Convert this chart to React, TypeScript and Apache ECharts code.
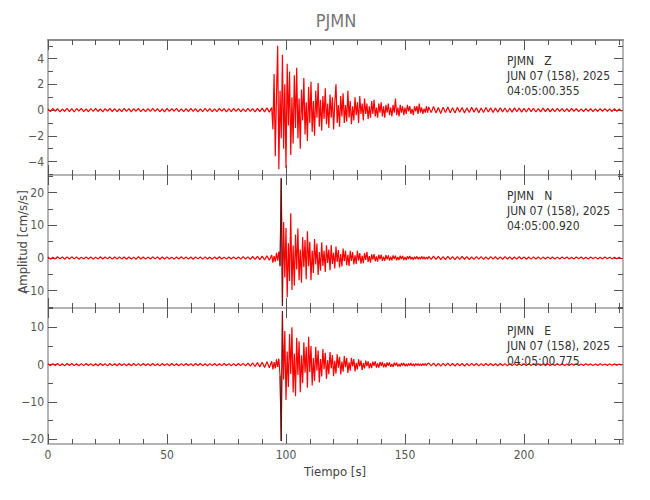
import React, { useEffect, useRef } from 'react';
import * as echarts from 'echarts';

// ---------------- data ----------------
const STATION = 'PJMN';
const CHANNELS = ['Z', 'N', 'E'];
const DATE_LABEL = 'JUN 07 (158), 2025';
const START_TIMES = ['04:05:00.355', '04:05:00.920', '04:05:00.775'];

const X_MAX = 241.6;
const X_MAJOR = [0, 50, 100, 150, 200];
const X_MINOR = [10, 20, 30, 40, 60, 70, 80, 90, 110, 120, 130, 140, 160, 170, 180, 190, 210, 220, 230, 240];

const Y_MIN = [-5.05, -15.3, -21.3];
const Y_MAX = [5.45, 25.4, 15.2];
const Y_MAJOR = [[-4, -2, 0, 2, 4], [-10, 0, 10, 20], [-20, -10, 0, 10]];
const Y_MINOR = [[-5, -3, -1, 1, 3, 5], [-15, -5, 5, 15, 25], [-15, -5, 5, 15]];

// sampling of the three segments (seconds)
const PRE_START = 0, PRE_STEP = 1;
const MAIN_START = 94, MAIN_STEP = 0.5;
const TAIL_START = 160, TAIL_STEP = 1;

const Z_PRE = [0.1,-0.13,0.14,-0.09,0.12,-0.14,0.08,-0.11,0.13,-0.12,
  0.11,-0.15,0.12,-0.08,0.14,-0.12,0.09,-0.13,0.12,-0.1,
  0.14,-0.11,0.1,-0.14,0.12,-0.09,0.13,-0.12,0.11,-0.13,
  0.09,-0.12,0.14,-0.1,0.12,-0.14,0.11,-0.09,0.13,-0.12,
  0.1,-0.13,0.12,-0.11,0.14,-0.1,0.12,-0.12,0.09,-0.14,
  0.13,-0.11,0.12,-0.09,0.14,-0.12,0.1,-0.13,0.11,-0.12,
  0.13,-0.1,0.12,-0.14,0.09,-0.12,0.14,-0.11,0.12,-0.13,
  0.1,-0.12,0.13,-0.09,0.12,-0.14,0.11,-0.12,0.14,-0.1,
  0.12,-0.13,0.09,-0.12,0.14,-0.11,0.12,-0.14,0.13,-0.12,
  0.15,-0.14,0.17,-0.16];
const Z_MAIN = [0.2,-1.5,2.8,-3.6,1.2,5.0,-4.6,1.5,-2.2,4.3,
  -3.0,2.0,-4.5,3.6,-1.2,3.0,-3.5,1.0,-2.6,2.7,
  -1.4,3.3,-2.2,0.9,-3.0,1.6,-0.8,2.5,-1.9,0.6,
  -2.4,1.8,-1.0,2.2,-1.7,0.7,-2.0,1.5,-0.6,2.1,
  -1.3,0.8,-1.6,1.1,-0.7,1.7,-1.1,0.5,-1.4,1.2,
  -0.6,1.0,-1.5,0.6,2.0,-1.0,0.4,-1.3,1.1,-0.5,
  1.3,-1.0,0.4,-0.9,1.5,-0.6,0.7,-1.1,0.3,-0.8,
  1.0,-0.4,0.6,-1.0,1.1,-0.3,0.5,-0.8,0.9,-0.3,
  0.5,-0.7,0.3,-0.6,0.7,-0.3,0.8,-0.5,0.2,-0.6,
  0.5,-0.2,0.6,-0.5,0.3,-0.6,0.4,-0.2,0.5,-0.4,
  0.2,-0.5,0.4,-0.2,0.9,-0.4,0.2,-0.5,0.4,-0.2,
  0.3,-0.4,0.2,-0.3,0.4,-0.1,0.3,-0.3,0.1,-0.4,
  0.3,-0.1,0.3,-0.3,0.5,-0.2,0.2,-0.3,0.1,-0.2,
  0.3,-0.2];
const Z_TAIL = [0.25,-0.2,0.28,-0.22,0.2,-0.26,0.22,-0.18,0.24,-0.2,
  0.18,-0.23,0.21,-0.17,0.2,-0.22,0.17,-0.19,0.22,-0.16,
  0.18,-0.2,0.16,-0.19,0.2,-0.15,0.17,-0.18,0.15,-0.17,
  0.18,-0.14,0.16,-0.17,0.14,-0.16,0.17,-0.13,0.15,-0.16,
  0.13,-0.15,0.16,-0.12,0.14,-0.15,0.12,-0.14,0.15,-0.12,
  0.13,-0.14,0.12,-0.13,0.14,-0.11,0.12,-0.13,0.11,-0.12,
  0.13,-0.11,0.12,-0.12,0.1,-0.12,0.12,-0.1,0.11,-0.12,
  0.1,-0.11,0.12,-0.1,0.11,-0.1,0.1,-0.11,0.11,-0.1,
  0.1,-0.1];

const N_PRE = [0.3,-0.36,0.25,-0.33,0.38,-0.27,0.32,-0.36,0.29,-0.31,
  0.36,-0.26,0.33,-0.39,0.27,-0.32,0.36,-0.29,0.31,-0.36,
  0.26,-0.33,0.39,-0.3,0.32,-0.27,0.36,-0.35,0.29,-0.31,
  0.35,-0.28,0.3,-0.37,0.33,-0.29,0.27,-0.36,0.37,-0.3,
  0.31,-0.35,0.28,-0.32,0.36,-0.27,0.33,-0.38,0.3,-0.29,
  0.36,-0.32,0.27,-0.36,0.32,-0.3,0.38,-0.28,0.31,-0.35,
  0.29,-0.37,0.35,-0.27,0.3,-0.33,0.36,-0.31,0.28,-0.36,
  0.33,-0.29,0.37,-0.32,0.27,-0.35,0.31,-0.3,0.36,-0.33,
  0.3,-0.36,0.4,-0.32,0.36,-0.42,0.46,-0.4,0.5,-0.48,
  0.56,-0.6,0.66,-0.7];
const N_MAIN = [0.9,-1.4,0.6,-1.1,1.6,-0.8,2.0,-2.5,24.4,-14.7,
  11.0,-6.0,9.2,-12.0,4.5,-7.0,13.7,-9.8,3.8,-8.5,
  7.2,-3.5,9.0,-6.8,2.6,-7.6,6.4,-2.8,5.5,-6.5,
  8.2,-2.5,5.0,-6.8,2.3,-4.6,5.8,-2.0,4.4,-5.2,
  1.8,-3.9,4.8,-2.4,2.2,-4.3,3.9,-1.5,2.6,-3.7,
  4.0,-1.8,1.6,-3.2,3.5,-1.2,2.4,-2.9,1.2,-2.6,
  2.9,-1.0,2.3,-2.2,1.0,-2.4,2.2,-0.9,1.8,-2.0,
  0.8,-1.8,2.2,-0.8,1.5,-1.7,0.7,-1.6,1.5,-0.6,
  1.9,-1.2,0.6,-1.4,1.1,-0.5,1.2,-1.0,0.5,-1.1,
  1.0,-0.4,1.0,-0.9,0.4,-0.9,0.9,-0.4,0.8,-0.8,
  0.4,-0.7,0.8,-0.3,0.7,-0.7,0.3,-0.6,0.7,-0.3,
  0.6,-0.6,0.3,-0.6,0.5,-0.3,0.6,-0.4,0.3,-0.5,
  0.4,-0.3,0.5,-0.4,0.3,-0.4,0.5,-0.3,0.4,-0.4,
  0.3,-0.4];
const N_TAIL = [0.5,-0.45,0.55,-0.4,0.48,-0.52,0.42,-0.47,0.5,-0.4,
  0.45,-0.5,0.4,-0.44,0.48,-0.38,0.43,-0.46,0.37,-0.42,
  0.45,-0.36,0.4,-0.43,0.35,-0.4,0.42,-0.34,0.38,-0.41,
  0.33,-0.38,0.4,-0.32,0.36,-0.39,0.31,-0.36,0.38,-0.3,
  0.35,-0.37,0.3,-0.34,0.36,-0.29,0.33,-0.35,0.28,-0.32,
  0.34,-0.28,0.31,-0.33,0.27,-0.3,0.32,-0.26,0.29,-0.31,
  0.26,-0.29,0.3,-0.25,0.28,-0.3,0.25,-0.28,0.29,-0.24,
  0.27,-0.28,0.24,-0.27,0.28,-0.24,0.26,-0.27,0.23,-0.26,
  0.25,-0.24];

const E_PRE = [0.25,-0.3,0.27,-0.23,0.31,-0.28,0.24,-0.32,0.29,-0.25,
  0.3,-0.27,0.23,-0.31,0.28,-0.26,0.32,-0.24,0.27,-0.3,
  0.25,-0.29,0.31,-0.25,0.26,-0.32,0.29,-0.27,0.24,-0.3,
  0.31,-0.25,0.28,-0.29,0.25,-0.31,0.3,-0.26,0.27,-0.28,
  0.32,-0.24,0.26,-0.3,0.29,-0.27,0.25,-0.32,0.3,-0.25,
  0.27,-0.29,0.31,-0.26,0.24,-0.3,0.28,-0.27,0.32,-0.25,
  0.26,-0.31,0.29,-0.24,0.3,-0.28,0.25,-0.3,0.27,-0.26,
  0.31,-0.29,0.24,-0.27,0.3,-0.25,0.28,-0.31,0.26,-0.29,
  0.3,-0.27,0.35,-0.33,0.4,-0.37,0.45,-0.5,0.55,-0.6,
  0.65,-0.75,0.8,-0.85];
const E_MAIN = [0.9,-1.3,0.7,-1.0,1.4,-0.6,1.6,-3.0,-20.5,14.4,
  -4.0,9.0,-9.5,3.5,-6.0,8.2,-2.5,10.0,-7.5,3.0,
  -8.5,7.2,-2.8,6.3,-7.4,2.5,-5.0,6.0,-2.2,4.8,
  -6.2,7.5,-2.0,5.0,-5.6,1.8,-4.4,4.8,-1.6,3.8,
  -4.8,1.5,-3.2,4.2,-1.2,3.2,-3.8,1.2,-2.6,3.4,
  -1.0,2.6,-3.1,1.0,-2.4,2.8,-0.8,2.1,-2.6,0.8,
  -1.9,2.3,-0.7,1.8,-2.2,0.6,-1.6,1.8,-0.5,1.5,
  -1.8,0.5,-1.3,1.4,-0.5,1.1,-1.4,0.4,-1.0,1.1,
  -0.4,0.9,-1.0,0.4,-0.9,0.8,-0.3,0.9,-0.8,0.3,
  -0.8,0.7,-0.3,0.7,-0.7,0.3,-0.7,0.6,-0.3,0.6,
  -0.6,0.2,-0.6,0.5,-0.2,0.5,-0.5,0.2,-0.5,0.4,
  -0.2,0.4,-0.4,0.2,-0.4,0.3,-0.2,0.4,-0.3,0.2,
  -0.4,0.3,-0.2,0.3,-0.3,0.2,-0.3,0.3,-0.2,0.3,
  -0.3,0.3];
const E_TAIL = [0.4,-0.35,0.42,-0.38,0.33,-0.4,0.36,-0.32,0.38,-0.34,
  0.3,-0.37,0.35,-0.3,0.33,-0.36,0.29,-0.33,0.34,-0.28,
  0.31,-0.33,0.27,-0.31,0.32,-0.26,0.29,-0.31,0.25,-0.29,
  0.3,-0.25,0.27,-0.29,0.24,-0.27,0.28,-0.23,0.26,-0.27,
  0.22,-0.26,0.27,-0.22,0.24,-0.26,0.21,-0.24,0.25,-0.21,
  0.23,-0.24,0.2,-0.23,0.24,-0.2,0.22,-0.23,0.19,-0.22,
  0.23,-0.19,0.21,-0.22,0.19,-0.21,0.22,-0.18,0.2,-0.21,
  0.18,-0.2,0.21,-0.18,0.19,-0.2,0.18,-0.19,0.2,-0.17,
  0.18,-0.18];

// dark peak strokes visible over the red traces
const SPIKE_T = [97.5, 98, 98.5];
const N_SPIKE = [-2.5, 24.4, -14.7];
const E_SPIKE = [-3.0, -20.5, 14.4];

// ---------------- helpers ----------------
const FONT = "'Liberation Sans Narrow','DejaVu Sans Condensed','Roboto Condensed',sans-serif";

function buildTrace(pre: number[], main: number[], tail: number[]) {
  const out: number[][] = [];
  pre.forEach((v, i) => out.push([PRE_START + i * PRE_STEP, v]));
  main.forEach((v, i) => out.push([MAIN_START + i * MAIN_STEP, v]));
  tail.forEach((v, i) => out.push([TAIL_START + i * TAIL_STEP, v]));
  return out;
}

const fmt = (v: number) => (v < 0 ? '\u2212' + Math.abs(v) : String(v));

export default function App() {
  const ref = useRef<HTMLDivElement>(null);

  useEffect(() => {
    if (!ref.current) return;
    const chart = echarts.init(ref.current, null, { renderer: 'svg' });

    const traces = [
      buildTrace(Z_PRE, Z_MAIN, Z_TAIL),
      buildTrace(N_PRE, N_MAIN, N_TAIL),
      buildTrace(E_PRE, E_MAIN, E_TAIL),
    ];
    const spikes: (number[] | null)[] = [null, N_SPIKE, E_SPIKE];

    const gridTop = [40, 175, 308];
    const gridH = [135, 133, 136];
    const axisColor = '#b4b4b4';
    const tickColor = '#555';

    const grids: any[] = [];
    const xAxes: any[] = [];
    const yAxes: any[] = [];
    const series: any[] = [];

    for (let p = 0; p < 3; p++) {
      grids.push({ left: 48, right: 27, top: gridTop[p], height: gridH[p], containLabel: false });

      const xBase = (position: string, values: number[], len: number, line: boolean, label: boolean, lineColor: string) => ({
        type: 'value', gridIndex: p, min: 0, max: X_MAX, position,
        axisLine: { show: line, onZero: false, lineStyle: { color: lineColor, width: 2 } },
        axisTick: { show: true, inside: true, length: len, customValues: values, lineStyle: { color: tickColor, width: 1 } },
        axisLabel: { show: label, customValues: values, margin: 5, color: '#555', fontSize: 12, fontFamily: FONT },
        splitLine: { show: false },
      });
      xAxes.push(xBase('bottom', X_MAJOR, 10, true, p === 2, axisColor));
      xAxes.push(xBase('bottom', X_MINOR, 5, false, false, axisColor));
      xAxes.push(xBase('top', X_MAJOR, 10, true, false, p === 0 ? '#8c8c8c' : axisColor));
      xAxes.push(xBase('top', X_MINOR, 5, false, false, axisColor));

      const yBase = (position: string, values: number[], len: number, line: boolean, label: boolean) => ({
        type: 'value', gridIndex: p, min: Y_MIN[p], max: Y_MAX[p], position,
        axisLine: { show: line, onZero: false, lineStyle: { color: axisColor, width: 2 } },
        axisTick: { show: true, inside: true, length: len, customValues: values, lineStyle: { color: tickColor, width: 1 } },
        axisLabel: { show: label, customValues: values, margin: 4, color: '#555', fontSize: 12, fontFamily: FONT, formatter: fmt },
        splitLine: { show: false },
      });
      yAxes.push(yBase('left', Y_MAJOR[p], 9, true, true));
      yAxes.push(yBase('left', Y_MINOR[p], 5, false, false));
      yAxes.push(yBase('right', Y_MAJOR[p], 9, true, false));
      yAxes.push(yBase('right', Y_MINOR[p], 5, false, false));

      series.push({
        type: 'line', xAxisIndex: 4 * p, yAxisIndex: 4 * p,
        data: traces[p], showSymbol: false, symbol: 'none', silent: true,
        lineStyle: { color: '#ff0000', width: 1.2 }, z: 3,
      });
      const sp = spikes[p];
      if (sp) {
        series.push({
          type: 'line', xAxisIndex: 4 * p, yAxisIndex: 4 * p,
          data: SPIKE_T.map((t, i) => [t, sp[i]]), showSymbol: false, symbol: 'none', silent: true,
          lineStyle: { color: '#222', width: 0.8 }, z: 4,
        });
      }
    }

    const annotations = [0, 1, 2].map((p) => ({
      type: 'text', left: 507, top: [53, 188, 323][p], z: 10,
      style: {
        text: `${STATION}   ${CHANNELS[p]}\n${DATE_LABEL}\n${START_TIMES[p]}`,
        font: `12px ${FONT}`, fill: '#333', lineHeight: 15,
      },
    }));

    chart.setOption({
      animation: false,
      backgroundColor: '#ffffff',
      grid: grids,
      xAxis: xAxes,
      yAxis: yAxes,
      series,
      graphic: [
        { type: 'text', x: 336, y: 20, style: { text: STATION, font: `18px ${FONT}`, fill: '#777', textAlign: 'center', textVerticalAlign: 'middle' } },
        { type: 'text', x: 335, y: 471, style: { text: 'Tiempo [s]', font: `13px ${FONT}`, fill: '#444', textAlign: 'center', textVerticalAlign: 'middle' } },
        { type: 'text', x: 22, y: 242, rotation: Math.PI / 2, style: { text: 'Amplitud [cm/s/s]', font: `13px ${FONT}`, fill: '#444', textAlign: 'center', textVerticalAlign: 'middle' } },
        ...annotations,
      ],
    });

    return () => chart.dispose();
  }, []);

  return <div ref={ref} style={{ position: 'fixed', left: 0, top: 0, width: 650, height: 500 }} />;
}
